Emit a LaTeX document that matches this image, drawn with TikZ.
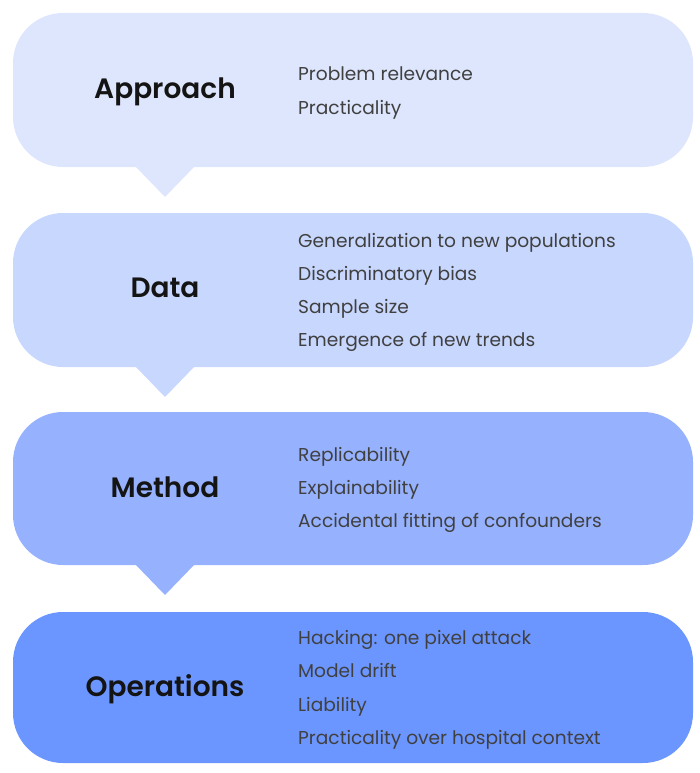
\documentclass[tikz,border=0pt]{standalone}
\usepackage{fontspec}
\setmainfont{Poppins}
\newfontfamily\semib{Poppins SemiBold}
\begin{document}
\begin{tikzpicture}[x=1pt,y=-1pt,
  title/.style={font=\fontsize{28}{32}\semib,text=black!92,anchor=base,inner sep=0pt},
  item/.style={font=\fontsize{18.6}{22}\selectfont,text=black!75,anchor=base west,inner sep=0pt}]
\definecolor{cA}{RGB}{222,230,253}
\definecolor{cB}{RGB}{200,215,254}
\definecolor{cC}{RGB}{150,178,255}
\definecolor{cD}{RGB}{108,150,255}
\useasboundingbox (0,0) rectangle (700,773);
% boxes with pointers
\foreach \t/\b/\c in {13/167/cA,213/367/cB,412/565/cC} {
  \fill[\c,rounded corners=50pt] (13,\t) rectangle (693,\b);
  \fill[\c] (135,\b-1) -- (195,\b-1) -- (165,\b+30) -- cycle;
}
\fill[cD,rounded corners=50pt] (13,612) rectangle (693,763);
% titles
\node[title] (tA) at (165,99) {Approach};
\node[title] (tB) at (165,297) {Data};
\node[title] (tC) at (165,497) {Method};
\node[title] (tD) at (165,696) {Operations};
% items
\node[item] (a1) at (298,81) {Problem relevance};
\node[item] (a2) at (298,114) {Practicality};
\node[item] (b1) at (298,247) {Generalization to new populations};
\node[item] (b2) at (298,280) {Discriminatory bias};
\node[item] (b3) at (298,313) {Sample size};
\node[item] (b4) at (298,346) {Emergence of new trends};
\node[item] (c1) at (298,461) {Replicability};
\node[item] (c2) at (298,494) {Explainability};
\node[item] (c3) at (298,527) {Accidental fitting of confounders};
\node[item] (d1) at (298,644) {Hacking: one pixel attack};
\node[item] (d2) at (298,677) {Model drift};
\node[item] (d3) at (298,711) {Liability};
\node[item] (d4) at (298,744) {Practicality over hospital context};
\end{tikzpicture}
\end{document}
